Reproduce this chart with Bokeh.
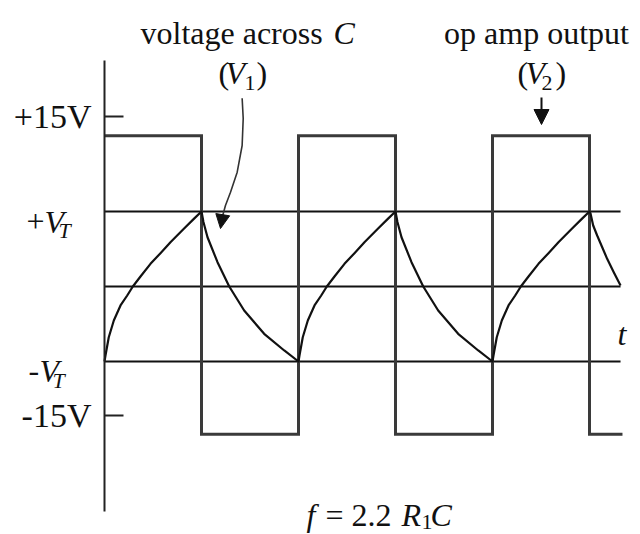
from bokeh.plotting import figure
from bokeh.models import LinearAxis, FixedTicker, Range1d, Label, Arrow, NormalHead
from bokeh.embed import file_html
from bokeh.resources import INLINE

# ---------------- data ----------------
# time in half-periods, voltage in units of V_T (schematic, not to scale)
switch_times = [0, 1, 2, 3, 4, 5]
t_end = 5.34
grid_end = 5.32
v_sat_high = 2.01
v_sat_low = -1.97
level_lines = [1.0, 0.0, -1.0]          # +V_T, 0, -V_T
tick_values = [2.27, -1.72]
tick_labels = ["+15V", "-15V"]

# capacitor voltage, one charging half-period
rise_t = [0, 0.010, 0.044, 0.096, 0.165, 0.234, 0.292, 0.371, 0.474, 0.577, 0.68, 0.818, 0.921, 1.0]
rise_v = [-1.0, -0.92, -0.676, -0.453, -0.253, -0.12, 0.0, 0.133, 0.302, 0.444, 0.591, 0.769, 0.902, 1.0]
# one discharging half-period
fall_t = [0, 0.02, 0.062, 0.165, 0.286, 0.44, 0.646, 0.853, 1.0]
fall_v = [1.0, 0.86, 0.657, 0.324, 0.0, -0.32, -0.631, -0.853, -1.0]
# the final partial half-period
tail_t = [0, 0.01, 0.038, 0.079, 0.131, 0.182, 0.25, 0.32]
tail_v = [1.0, 0.977, 0.813, 0.68, 0.524, 0.369, 0.191, 0.013]

# annotation arrow path (voltage across C)
arrow1_t = [1.419, 1.430, 1.419, 1.368, 1.299, 1.247, 1.216]
arrow1_v = [2.511, 2.24, 1.88, 1.524, 1.257, 1.08, 0.933]
arrow1_tip = (1.196, 0.773)

# ---------------- layout helpers ----------------
W, H = 640, 534
X0_PX, PX_PER_T = 104.0, 97.0
Y0_PX, PX_PER_V = 286.0, 75.0


def at(px, py):
    """reference pixel position -> data position (for text placement)"""
    return (px - X0_PX) / PX_PER_T, (Y0_PX - py) / PX_PER_V


FONT = "Liberation Serif"
INK = "#111111"

p = figure(width=W, height=H, output_backend="svg", toolbar_location=None,
           x_range=Range1d(-X0_PX / PX_PER_T, (W - X0_PX) / PX_PER_T),
           y_range=Range1d((Y0_PX - H) / PX_PER_V, Y0_PX / PX_PER_V),
           x_axis_location=None, y_axis_location=None,
           min_border_left=0, min_border_right=0, min_border_top=0, min_border_bottom=0,
           outline_line_color=None, background_fill_color="white", border_fill_color="white")
p.xgrid.visible = False
p.ygrid.visible = False

# y axis, pinned at t = 0
ax = LinearAxis(ticker=FixedTicker(ticks=tick_values),
                major_label_overrides={v: s for v, s in zip(tick_values, tick_labels)},
                bounds=(-3.0, 3.01), fixed_location=0)
ax.axis_line_width = 2
ax.axis_line_color = "#222222"
ax.major_tick_in = 19
ax.major_tick_out = 0
ax.major_tick_line_width = 2
ax.major_tick_line_color = "#222222"
ax.minor_tick_line_color = None
ax.major_label_text_font = FONT
ax.major_label_text_font_size = "34px"
ax.major_label_text_color = INK
ax.major_label_standoff = 13
p.add_layout(ax, "left")

# horizontal reference lines
p.segment(x0=[0] * len(level_lines), y0=level_lines, x1=[grid_end] * len(level_lines),
          y1=level_lines, line_color="#111111", line_width=2)

# square wave (op amp output)
sq_x = [switch_times[0]]
sq_y = [v_sat_high]
lvl, other = v_sat_high, v_sat_low
for s in switch_times[1:]:
    sq_x += [s, s]
    sq_y += [lvl, other]
    lvl, other = other, lvl
sq_x.append(t_end)
sq_y.append(lvl)
p.line(sq_x, sq_y, line_color="#3a3a3a", line_width=3, line_join="miter")

# capacitor voltage
cx, cy = [], []
for i, s in enumerate(switch_times[:-1]):
    st, sv = (rise_t, rise_v) if i % 2 == 0 else (fall_t, fall_v)
    cx += [s + t for t in st]
    cy += sv
cx += [switch_times[-1] + t for t in tail_t]
cy += tail_v
p.line(cx, cy, line_color="#111111", line_width=2.2, line_join="round")

# annotation arrows
p.line(arrow1_t, arrow1_v, line_color="#333333", line_width=1.6)
p.add_layout(Arrow(end=NormalHead(size=14, fill_color="#111111", line_color="#111111"),
                   x_start=arrow1_t[-1], y_start=arrow1_v[-1],
                   x_end=arrow1_tip[0], y_end=arrow1_tip[1],
                   line_color="#333333", line_width=1.6))
a2s = at(541, 97)
a2e = at(541, 124)
p.add_layout(Arrow(end=NormalHead(size=15, fill_color="#111111", line_color="#111111"),
                   x_start=a2s[0], y_start=a2s[1], x_end=a2e[0], y_end=a2e[1],
                   line_color="#111111", line_width=2))


def txt(s, px, py, size=32, style="normal", align="left"):
    x, y = at(px, py)
    p.add_layout(Label(x=x, y=y, text=s, text_font=FONT, text_font_size=f"{size}px",
                       text_font_style=style, text_color=INK, text_align=align,
                       text_baseline="alphabetic"))


# top annotations
txt("voltage across", 140, 32)
txt("C", 333, 32, style="italic")
txt("(", 218, 72)
txt("V", 225, 72, style="italic")
txt("1", 244, 82, size=22)
txt(")", 256, 72)

txt("op amp output", 536, 32, align="center")
txt("(", 517, 72)
txt("V", 525, 72, style="italic")
txt("2", 541, 82, size=22)
txt(")", 555, 72)

# threshold labels
txt("+", 26, 221)
txt("V", 44, 221, style="italic")
txt("T", 58, 230, size=22, style="italic")
txt("-", 28, 370)
txt("V", 39, 370, style="italic")
txt("T", 52, 380, size=22, style="italic")

# time label
txt("t", 617, 333, style="italic")

# formula
txt("f", 306, 514, style="italic")
txt("= 2.2", 325, 514)
txt("R", 401, 514, style="italic")
txt("1", 421, 521, size=22)
txt("C", 430, 514, style="italic")

open("out.html", "w").write(file_html(p, INLINE))
